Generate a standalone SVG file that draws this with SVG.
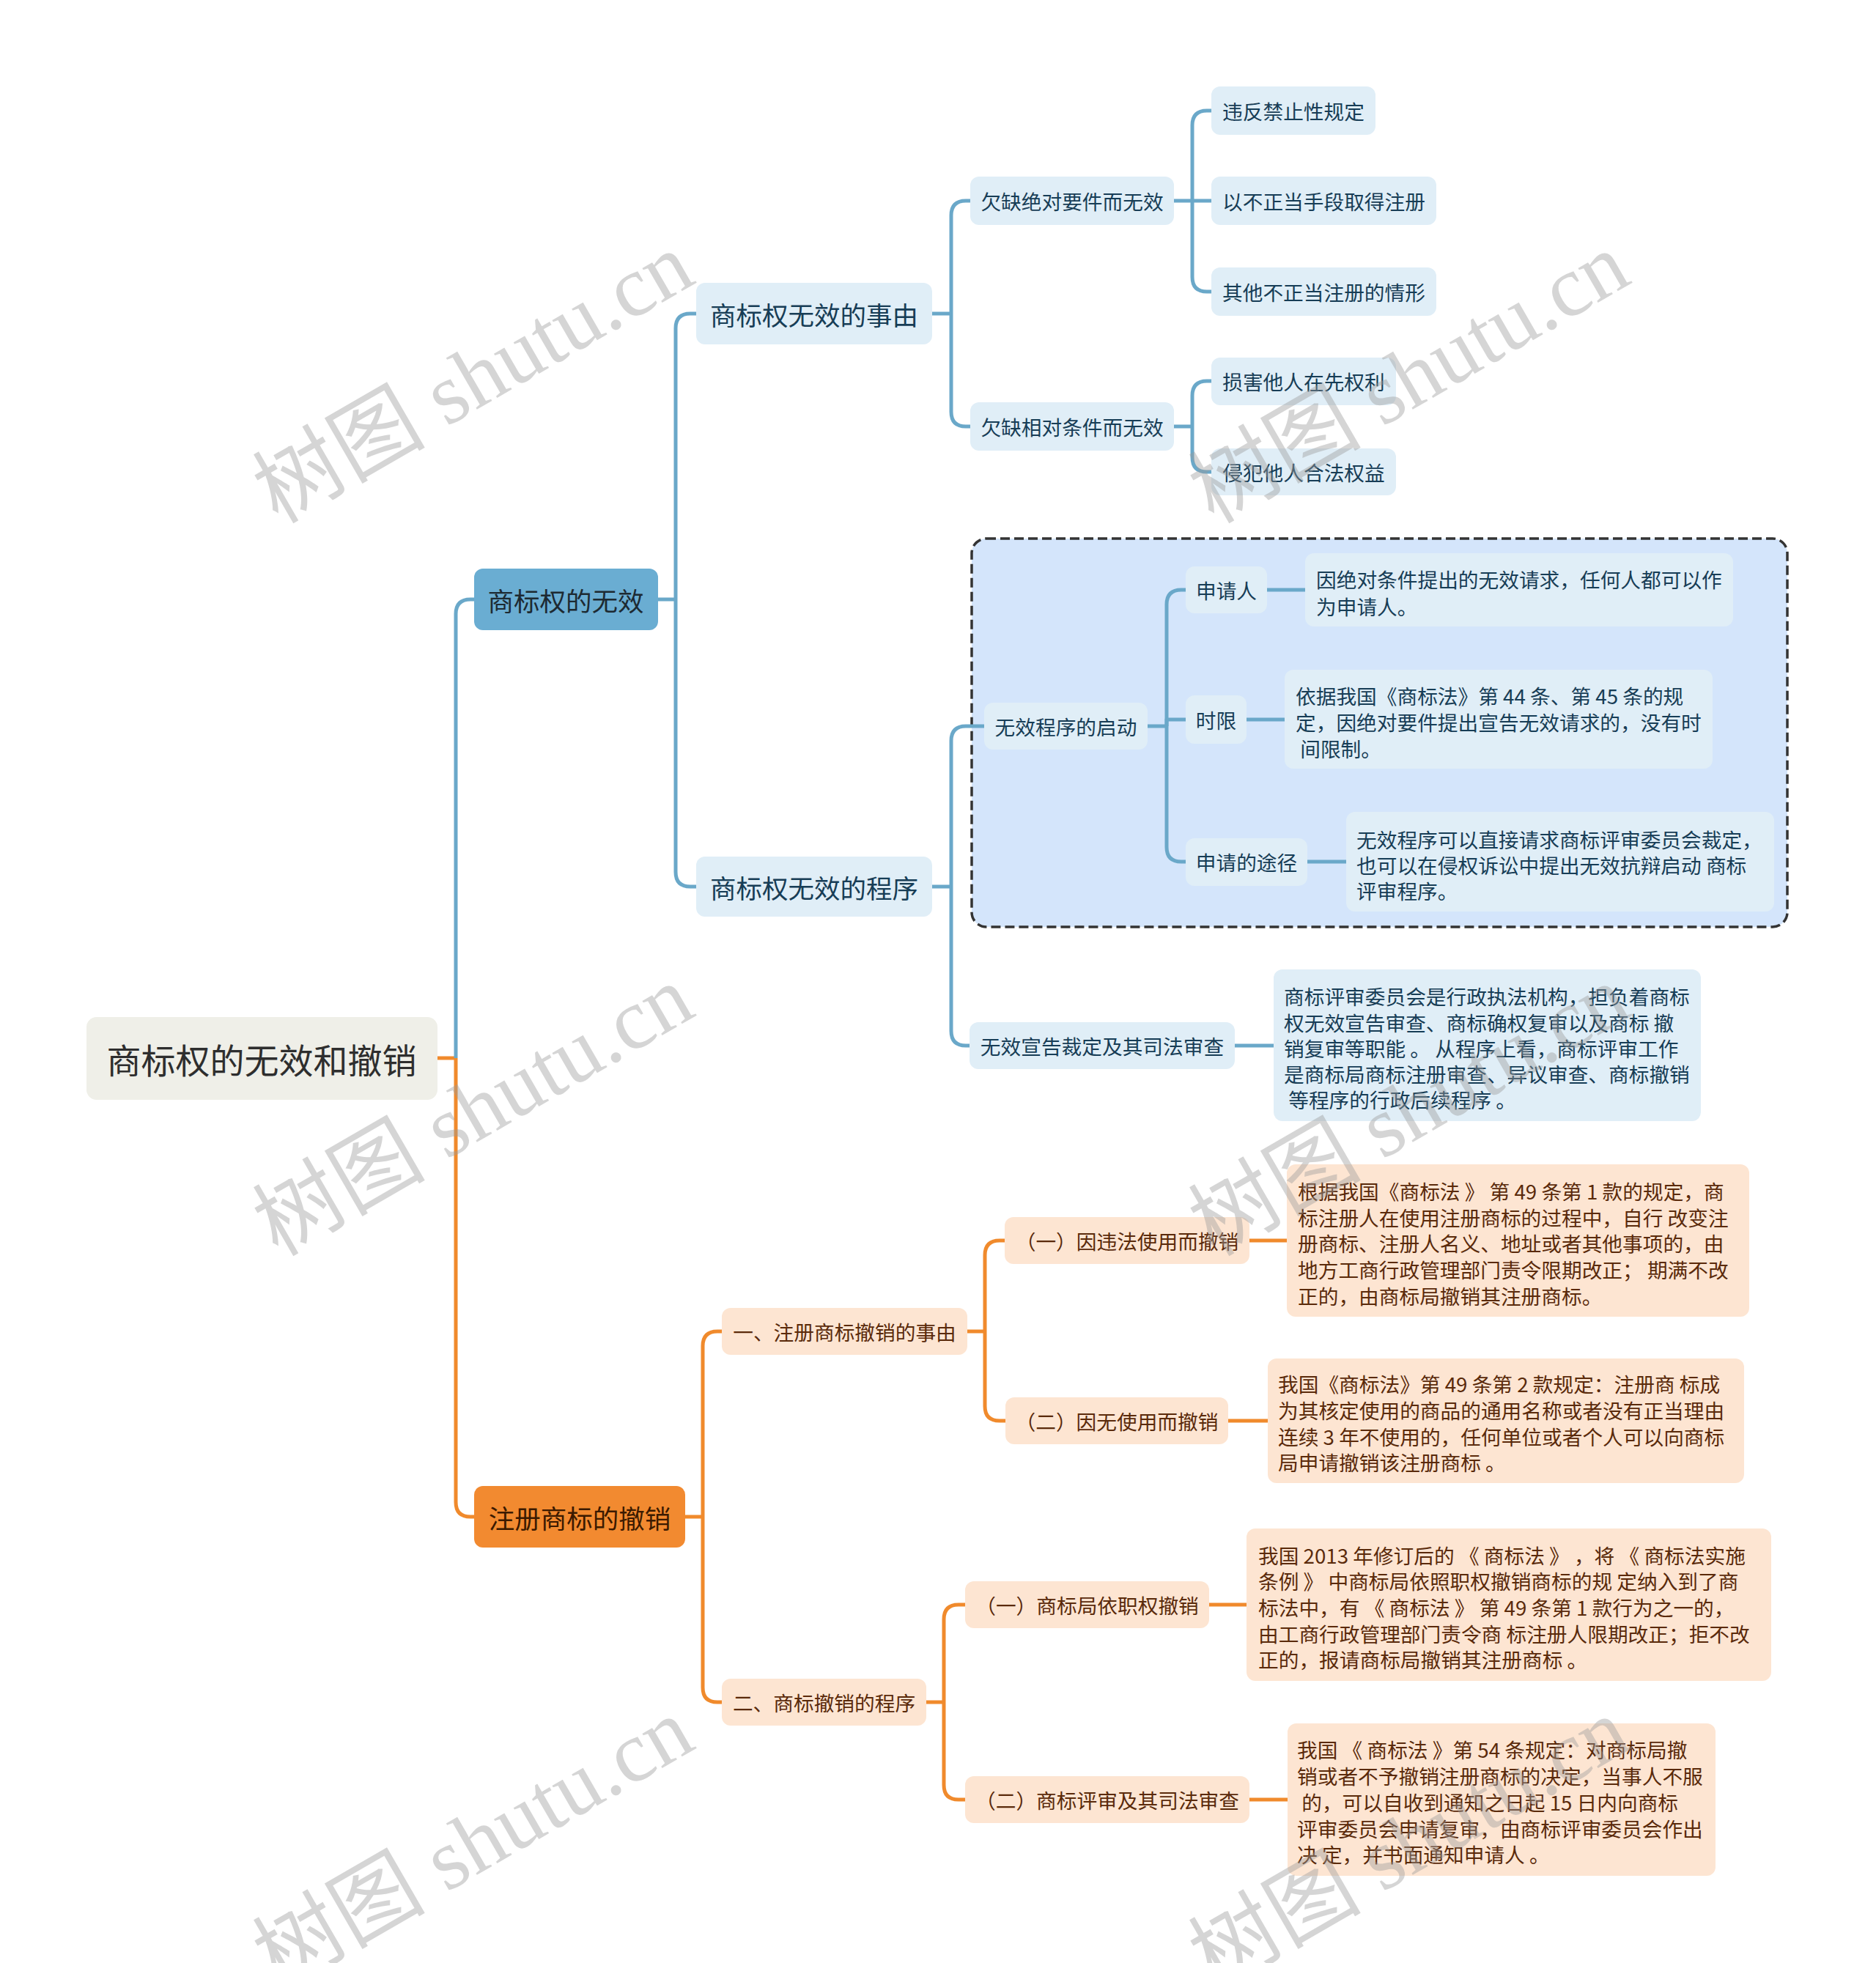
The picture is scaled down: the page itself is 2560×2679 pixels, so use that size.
<svg xmlns="http://www.w3.org/2000/svg" width="2560" height="2679" viewBox="0 0 2560 2679">
<style>
text{font-family:'Noto Sans CJK SC','Noto Sans',sans-serif;dominant-baseline:central}
.c{fill:none;stroke-width:5;stroke-linejoin:round;stroke-linecap:butt}
.cb{stroke:#6aa8c9}
.co{stroke:#f08a2c}
.bl{fill:#e0eef7}
.bt{fill:#173d56;font-size:27.7px}
.bt2{fill:#173d56;font-size:35.5px}
.ol{fill:#fde5d2}
.ot{fill:#5a2a0b;font-size:27.7px}
.wm{font-family:'Liberation Serif','Noto Sans CJK SC',serif;font-size:118px;fill:#9a9a9a;fill-opacity:0.42;text-anchor:middle}
.mid{text-anchor:middle}
</style>
<rect width="2560" height="2679" fill="#ffffff"/>
<g id="group-box">
<rect x="1326" y="735" width="1113" height="530" rx="20" fill="#d4e5fb" stroke="#333333" stroke-width="3.5" stroke-dasharray="13 6"/>
</g>
<g id="connectors">
<path class="c co" d="M597,1444 H622"/>
<path class="c cb" d="M622,1444 V838 Q622,818 642,818 H647"/>
<path class="c co" d="M622,1444 V2050 Q622,2070 642,2070 H647"/>
<path class="c cb" d="M898,818 H922"/>
<path class="c cb" d="M922,818 V448 Q922,428 942,428 H950"/>
<path class="c cb" d="M922,818 V1190 Q922,1210 942,1210 H950"/>
<path class="c cb" d="M1272,428 H1298"/>
<path class="c cb" d="M1298,428 V294 Q1298,274 1318,274 H1324"/>
<path class="c cb" d="M1298,428 V562 Q1298,582 1318,582 H1324"/>
<path class="c cb" d="M1602,274 H1653"/>
<path class="c cb" d="M1627,274 V171 Q1627,151 1647,151 H1653"/>
<path class="c cb" d="M1627,274 V378 Q1627,398 1647,398 H1653"/>
<path class="c cb" d="M1602,582 H1627"/>
<path class="c cb" d="M1627,582 V540 Q1627,520 1647,520 H1653"/>
<path class="c cb" d="M1627,582 V624 Q1627,644 1647,644 H1653"/>
<path class="c cb" d="M1272,1210 H1298"/>
<path class="c cb" d="M1298,1210 V1011 Q1298,991 1318,991 H1343"/>
<path class="c cb" d="M1298,1210 V1407 Q1298,1427 1318,1427 H1323"/>
<path class="c cb" d="M1566,991 H1592"/>
<path class="c cb" d="M1592,991 V825 Q1592,805 1612,805 H1618"/>
<path class="c cb" d="M1592,991 V982 H1618"/>
<path class="c cb" d="M1592,991 V1156 Q1592,1176 1612,1176 H1618"/>
<path class="c cb" d="M1729,805 H1781"/>
<path class="c cb" d="M1701,982 H1753"/>
<path class="c cb" d="M1784,1176 H1837"/>
<path class="c cb" d="M1685,1427 H1738"/>
<path class="c co" d="M935,2070 H959"/>
<path class="c co" d="M959,2070 V1837 Q959,1817 979,1817 H985"/>
<path class="c co" d="M959,2070 V2303 Q959,2323 979,2323 H985"/>
<path class="c co" d="M1320,1817 H1344"/>
<path class="c co" d="M1344,1817 V1713 Q1344,1693 1364,1693 H1371"/>
<path class="c co" d="M1344,1817 V1919 Q1344,1939 1364,1939 H1372"/>
<path class="c co" d="M1705,1693 H1756"/>
<path class="c co" d="M1676,1939 H1730"/>
<path class="c co" d="M1264,2323 H1288"/>
<path class="c co" d="M1288,2323 V2210 Q1288,2190 1308,2190 H1317"/>
<path class="c co" d="M1288,2323 V2436 Q1288,2456 1308,2456 H1317"/>
<path class="c co" d="M1650,2190 H1701"/>
<path class="c co" d="M1705,2456 H1757"/>
</g>
<g id="root"><rect x="118" y="1388" width="479" height="113" rx="14" fill="#efefe8"/><text x="357" y="1444" class="mid" fill="#2e2e2e" font-size="47">商标权的无效和撤销</text></g>
<g id="n-invalid"><rect x="647" y="776" width="251" height="84" rx="12" fill="#6aadd2"/><text x="772" y="818" class="mid" fill="#1d2a32" font-size="35.5">商标权的无效</text></g>
<g id="n-revoke"><rect x="647" y="2028" width="288" height="84" rx="12" fill="#f28a30"/><text x="791" y="2070" class="mid" fill="#3b1a00" font-size="35.5">注册商标的撤销</text></g>
<g id="n-reason"><rect class="bl" x="950" y="386" width="322" height="84" rx="12"/><text class="bt2 mid" x="1111" y="428">商标权无效的事由</text></g>
<g id="n-proc"><rect class="bl" x="950" y="1169" width="322" height="82" rx="12"/><text class="bt2 mid" x="1111" y="1210">商标权无效的程序</text></g>
<g id="n-abs"><rect class="bl" x="1324" y="241" width="278" height="66" rx="12"/><text class="bt mid" x="1463" y="274">欠缺绝对要件而无效</text></g>
<g id="n-rel"><rect class="bl" x="1324" y="549" width="278" height="66" rx="12"/><text class="bt mid" x="1463" y="582">欠缺相对条件而无效</text></g>
<g id="n-a1"><rect class="bl" x="1653" y="118" width="224" height="66" rx="12"/><text class="bt mid" x="1765" y="151">违反禁止性规定</text></g>
<g id="n-a2"><rect class="bl" x="1653" y="241" width="307" height="66" rx="12"/><text class="bt mid" x="1806.5" y="274">以不正当手段取得注册</text></g>
<g id="n-a3"><rect class="bl" x="1653" y="365" width="307" height="66" rx="12"/><text class="bt mid" x="1806.5" y="398">其他不正当注册的情形</text></g>
<g id="n-r1"><rect class="bl" x="1653" y="488" width="252" height="65" rx="12"/><text class="bt mid" x="1779" y="520">损害他人在先权利</text></g>
<g id="n-r2"><rect class="bl" x="1653" y="612" width="252" height="64" rx="12"/><text class="bt mid" x="1779" y="644">侵犯他人合法权益</text></g>
<g id="n-start"><rect class="bl" x="1343" y="959" width="223" height="64" rx="12"/><text class="bt mid" x="1454.5" y="991">无效程序的启动</text></g>
<g id="n-applicant"><rect class="bl" x="1618" y="773" width="111" height="64" rx="12"/><text class="bt mid" x="1673.5" y="805">申请人</text></g>
<g id="n-applicant-d"><rect class="bl" x="1781" y="755" width="584" height="100" rx="12"/><text class="bt"><tspan x="1796" y="790">因绝对条件提出的无效请求，任何人都可以作</tspan><tspan x="1796" y="827">为申请人。</tspan></text></g>
<g id="n-limit"><rect class="bl" x="1618" y="949" width="83" height="66" rx="12"/><text class="bt mid" x="1659.5" y="982">时限</text></g>
<g id="n-limit-d"><rect class="bl" x="1753" y="914" width="584" height="135" rx="12"/><text class="bt" xml:space="preserve"><tspan x="1768" y="949">依据我国《商标法》第 44 条、第 45 条的规</tspan><tspan x="1768" y="985">定，因绝对要件提出宣告无效请求的，没有时</tspan><tspan x="1768" y="1021"> 间限制。</tspan></text></g>
<g id="n-way"><rect class="bl" x="1618" y="1144" width="166" height="65" rx="12"/><text class="bt mid" x="1701" y="1176">申请的途径</text></g>
<g id="n-way-d"><rect class="bl" x="1837" y="1108" width="584" height="136" rx="12"/><text class="bt"><tspan x="1851" y="1145">无效程序可以直接请求商标评审委员会裁定，</tspan><tspan x="1851" y="1180">也可以在侵权诉讼中提出无效抗辩启动 商标</tspan><tspan x="1851" y="1215">评审程序。</tspan></text></g>
<g id="n-review"><rect class="bl" x="1323" y="1395" width="362" height="64" rx="12"/><text class="bt mid" x="1504" y="1427">无效宣告裁定及其司法审查</text></g>
<g id="n-review-d"><rect class="bl" x="1738" y="1323" width="583" height="207" rx="12"/><text class="bt" xml:space="preserve"><tspan x="1752" y="1359">商标评审委员会是行政执法机构，担负着商标</tspan><tspan x="1752" y="1395">权无效宣告审查、商标确权复审以及商标 撤</tspan><tspan x="1752" y="1430">销复审等职能 。 从程序上看，商标评审工作</tspan><tspan x="1752" y="1465">是商标局商标注册审查、异议审查、商标撤销</tspan><tspan x="1752" y="1500"> 等程序的行政后续程序 。</tspan></text></g>
<g id="n-o1"><rect class="ol" x="985" y="1785" width="335" height="64" rx="12"/><text class="ot mid" x="1152.5" y="1817">一、注册商标撤销的事由</text></g>
<g id="n-o2"><rect class="ol" x="985" y="2291" width="279" height="64" rx="12"/><text class="ot mid" x="1124.5" y="2323">二、商标撤销的程序</text></g>
<g id="n-o11"><rect class="ol" x="1371" y="1661" width="334" height="64" rx="12"/><text class="ot mid" x="1538" y="1693">（一）因违法使用而撤销</text></g>
<g id="n-o11-d"><rect class="ol" x="1756" y="1589" width="631" height="208" rx="12"/><text class="ot"><tspan x="1771" y="1625">根据我国《商标法 》 第 49 条第 1 款的规定，商</tspan><tspan x="1771" y="1661">标注册人在使用注册商标的过程中，自行 改变注</tspan><tspan x="1771" y="1696">册商标、注册人名义、地址或者其他事项的，由</tspan><tspan x="1771" y="1732">地方工商行政管理部门责令限期改正； 期满不改</tspan><tspan x="1771" y="1768">正的，由商标局撤销其注册商标。</tspan></text></g>
<g id="n-o12"><rect class="ol" x="1372" y="1907" width="304" height="64" rx="12"/><text class="ot mid" x="1524" y="1939">（二）因无使用而撤销</text></g>
<g id="n-o12-d"><rect class="ol" x="1730" y="1854" width="650" height="170" rx="12"/><text class="ot"><tspan x="1744" y="1888">我国《商标法》第 49 条第 2 款规定：注册商 标成</tspan><tspan x="1744" y="1924">为其核定使用的商品的通用名称或者没有正当理由</tspan><tspan x="1744" y="1960">连续 3 年不使用的，任何单位或者个人可以向商标</tspan><tspan x="1744" y="1995">局申请撤销该注册商标 。</tspan></text></g>
<g id="n-o21"><rect class="ol" x="1317" y="2158" width="333" height="64" rx="12"/><text class="ot mid" x="1483.5" y="2190">（一）商标局依职权撤销</text></g>
<g id="n-o21-d"><rect class="ol" x="1701" y="2086" width="716" height="208" rx="12"/><text class="ot"><tspan x="1717" y="2122">我国 2013 年修订后的 《 商标法 》 ，将 《 商标法实施</tspan><tspan x="1717" y="2157">条例 》 中商标局依照职权撤销商标的规 定纳入到了商</tspan><tspan x="1717" y="2193">标法中，有 《 商标法 》 第 49 条第 1 款行为之一的，</tspan><tspan x="1717" y="2229">由工商行政管理部门责令商 标注册人限期改正；拒不改</tspan><tspan x="1717" y="2264">正的，报请商标局撤销其注册商标 。</tspan></text></g>
<g id="n-o22"><rect class="ol" x="1317" y="2424" width="388" height="64" rx="12"/><text class="ot mid" x="1511" y="2456">（二）商标评审及其司法审查</text></g>
<g id="n-o22-d"><rect class="ol" x="1757" y="2352" width="584" height="208" rx="12"/><text class="ot" xml:space="preserve"><tspan x="1770" y="2387">我国 《 商标法 》第 54 条规定：对商标局撤</tspan><tspan x="1770" y="2423">销或者不予撤销注册商标的决定，当事人不服</tspan><tspan x="1770" y="2459"> 的，可以自收到通知之日起 15 日内向商标</tspan><tspan x="1770" y="2495">评审委员会申请复审，由商标评审委员会作出</tspan><tspan x="1770" y="2530">决 定，并书面通知申请人 。</tspan></text></g>
<g id="watermarks">
<text class="wm" transform="translate(646,516) rotate(-30)">树图 shutu.cn</text>
<text class="wm" transform="translate(1923,516) rotate(-30)">树图 shutu.cn</text>
<text class="wm" transform="translate(646,1516) rotate(-30)">树图 shutu.cn</text>
<text class="wm" transform="translate(1923,1516) rotate(-30)">树图 shutu.cn</text>
<text class="wm" transform="translate(646,2516) rotate(-30)">树图 shutu.cn</text>
<text class="wm" transform="translate(1923,2516) rotate(-30)">树图 shutu.cn</text>
</g>
</svg>
